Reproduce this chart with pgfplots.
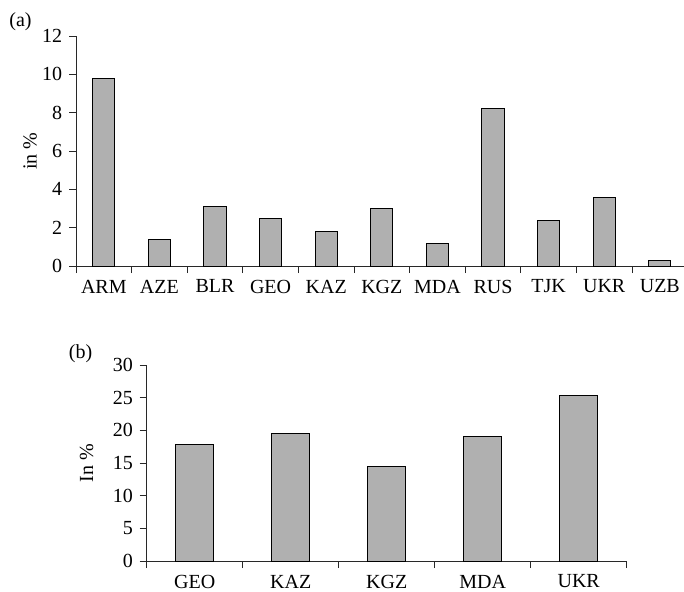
\documentclass[border=0pt]{standalone}
\usepackage{fontspec}
\setmainfont{Liberation Serif}
\usepackage{pgfplots}
\pgfplotsset{compat=1.18}
\definecolor{barfill}{RGB}{176,176,176}
\definecolor{axcol}{RGB}{40,40,40}
\begin{document}
\fontsize{20}{24}\selectfont
\begin{tikzpicture}
\useasboundingbox (0,0) rectangle (684pt,-591pt);
\pgfplotsset{
  every axis/.append style={
    scale only axis,
    axis x line=bottom,
    axis y line=left,
    axis line style={-, line width=0.9pt, draw=axcol},
    tick align=outside,
    ymin=0,
    /pgf/number format/assume math mode=true,
    font=\fontsize{20}{24}\selectfont,
    xtick=data,
    major x tick style={draw=none},
    minor x tick style={line width=0.9pt, draw=axcol},
    ytick style={line width=0.9pt, draw=axcol},
    major tick length=7pt,
    minor tick length=7pt,
    ylabel style={anchor=center},
  }
}
% Panel (a)
\begin{axis}[
  at={(76pt,-266pt)}, anchor=south west,
  width=611.6pt, height=230pt,
  xmin=-0.5, xmax=10.5,
  ymax=12, ytick={0,2,4,6,8,10,12},
  minor xtick={-0.5,0.5,1.5,2.5,3.5,4.5,5.5,6.5,7.5,8.5,9.5,10.5},
  xticklabels={ARM,AZE,BLR,GEO,KAZ,KGZ,MDA,RUS,TJK,UKR,UZB},
  ylabel={in \%},
  ylabel style={at={(axis description cs:-0.0752,0.5)}},
]
\addplot[ybar, bar width=0.4, fill=barfill, draw=black, line width=0.9pt]
  coordinates {(0,9.8) (1,1.4) (2,3.1) (3,2.5) (4,1.8) (5,3.0) (6,1.2) (7,8.2) (8,2.4) (9,3.6) (10,0.3)};
\end{axis}
\node at (20.5pt,-22pt) {(a)};
% Panel (b)
\begin{axis}[
  at={(146.7pt,-561pt)}, anchor=south west,
  width=480pt, height=196pt,
  xmin=-0.5, xmax=4.5,
  ymax=30, ytick={0,5,10,15,20,25,30},
  minor xtick={-0.5,0.5,1.5,2.5,3.5,4.5},
  xticklabels={GEO,KAZ,KGZ,MDA,UKR},
  ylabel={In \%},
  ylabel style={at={(axis description cs:-0.125,0.5)}},
]
\addplot[ybar, bar width=0.4, fill=barfill, draw=black, line width=0.9pt]
  coordinates {(0,17.8) (1,19.5) (2,14.5) (3,19.0) (4,25.3)};
\end{axis}
\node at (80.5pt,-354pt) {(b)};
\end{tikzpicture}
\end{document}
